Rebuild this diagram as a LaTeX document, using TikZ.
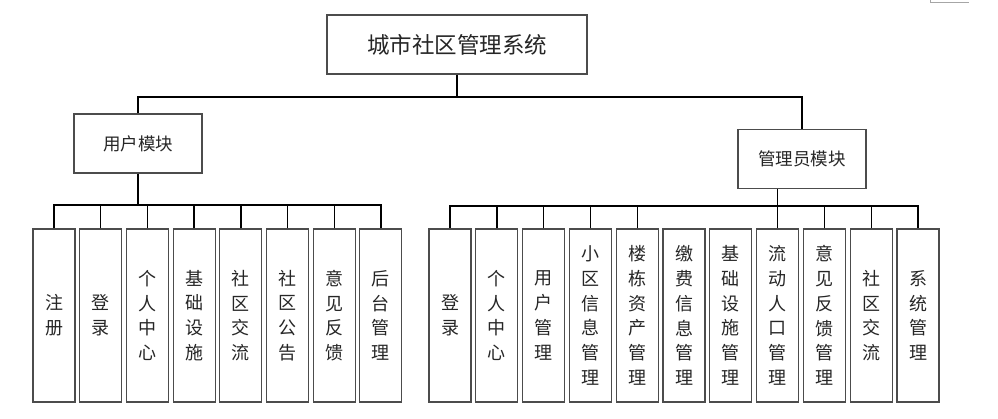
\documentclass[tikz,border=0pt]{standalone}
\usepackage{fontspec}
\newfontfamily\cjk{Noto Sans CJK SC}
\usetikzlibrary{calc}

\begin{document}
\begin{tikzpicture}[x=1pt,y=-1pt,
    kuang/.style={draw=black!70,line width=1.1pt,fill=white,inner sep=0pt,text=black!85,
        font=\cjk\fontsize{17.5}{21}\selectfont},
    dingkuang/.style={kuang,minimum width=260pt,minimum height=59pt,font=\cjk\fontsize{22.5}{27}\selectfont},
    mokuai/.style={kuang,minimum width=128pt,minimum height=59pt},
    yezi/.style={kuang,minimum width=42pt,minimum height=173pt,align=center,
        font=\cjk\fontsize{18}{24.7}\selectfont},
    lianxian/.style={black,line width=1.4pt}]
            \useasboundingbox (0,0) rectangle (998,419);
            % 顶层与模块
            \node[dingkuang] (xitong) at (457,44.5) {城市社区管理系统};
            \node[mokuai] (yonghu) at (138,143.5) {用户模块};
            \node[mokuai] (guanli) at (802,159) {管理员模块};
            % 用户功能
            \foreach \t [count=\i] in {{注\\册},{登\\录},{个\\人\\中\\心},{基\\础\\设\\施},
                {社\\区\\交\\流},{社\\区\\公\\告},{意\\见\\反\\馈},{后\\台\\管\\理}}
                \node[yezi] (u\i) at ({54+46.7*(\i-1)},315.5) {\t};
            % 管理员功能
            \foreach \t [count=\i] in {{登\\录},{个\\人\\中\\心},{用\\户\\管\\理},
                {小\\区\\信\\息\\管\\理},{楼\\栋\\资\\产\\管\\理},{缴\\费\\信\\息\\管\\理},
                {基\\础\\设\\施\\管\\理},{流\\动\\人\\口\\管\\理},{意\\见\\反\\馈\\管\\理},
                {社\\区\\交\\流},{系\\统\\管\\理}}
                \node[yezi] (a\i) at ({450+46.8*(\i-1)},315.5) {\t};
            % 总线
            \coordinate (zongxian) at (457,97);
            \coordinate (uxian) at (0,205);
            \coordinate (axian) at (0,206);
            % 顶层连线
            \draw[lianxian] (xitong.south) -- (zongxian);
            \draw[lianxian] (yonghu.north) |- (zongxian) -| (guanli.north);
            % 用户模块连线
            \draw[lianxian] (yonghu.south) -- (yonghu.south |- uxian);
            \draw[lianxian] (u1.north) -- (u1.north |- uxian) -- (u8.north |- uxian) -- (u8.north);
            \foreach \i in {2,...,7}
                \draw[lianxian] (u\i.north) -- (u\i.north |- uxian);
            % 管理员模块连线
            \draw[lianxian] (a8.north |- guanli.south) -- (a8.north);
            \draw[lianxian] (a1.north) -- (a1.north |- axian) -- (a11.north |- axian) -- (a11.north);
            \foreach \i in {2,3,4,5,9,10}
                \draw[lianxian] (a\i.north) -- (a\i.north |- axian);
            % 右上角残边
            \draw[black!35,line width=0.8pt] (930,0) -- (930,2) -- (969,2);
\end{tikzpicture}
\end{document}
